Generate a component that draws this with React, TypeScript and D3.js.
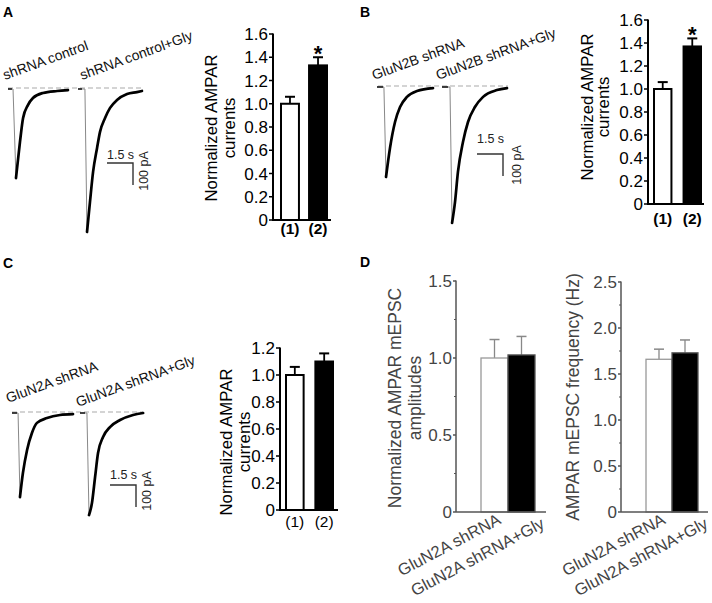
import React from 'react';
import * as d3 from 'd3';

const FONT = '"Liberation Sans", Arial, Helvetica, sans-serif';

// ---- bar data ----
const groupLabels = ['(1)', '(2)'];
const aMeans = [1.0, 1.33];
const aErrors = [0.06, 0.07];
const bMeans = [1.0, 1.37];
const bErrors = [0.06, 0.07];
const cMeans = [1.0, 1.1];
const cErrors = [0.06, 0.06];
const normTicksAB = [0, 0.2, 0.4, 0.6, 0.8, 1.0, 1.2, 1.4, 1.6];
const normTicksC = [0, 0.2, 0.4, 0.6, 0.8, 1.0, 1.2];

const dCategories = ['GluN2A shRNA', 'GluN2A shRNA+Gly'];
const ampMeans = [1.0, 1.02];
const ampErrors = [0.12, 0.12];
const freqMeans = [1.66, 1.73];
const freqErrors = [0.11, 0.14];
const ampTicks = [0, 0.5, 1.0, 1.5];
const ampMinor = [0.25, 0.75, 1.25];
const freqTicks = [0, 0.5, 1.0, 1.5, 2.0, 2.5];
const freqMinor = [0.25, 0.75, 1.25, 1.75, 2.25];

// ---- trace labels ----
const aTraceLabels = ['shRNA control', 'shRNA control+Gly'];
const bTraceLabels = ['GluN2B shRNA', 'GluN2B shRNA+Gly'];
const cTraceLabels = ['GluN2A shRNA', 'GluN2A shRNA+Gly'];

// ---- traces: time (s), current (pA) ----
const a1Time = [0, 0.23, 0.29, 0.46, 0.69, 0.87, 1.15, 1.44, 2.02, 2.83, 3.46];
const a1Current = [0, 0, 0, -405, -241, -132, -73, -41, -18, -9, -5];
const a2Time = [0, 0.23, 0.4, 0.52, 0.69, 0.87, 1.1, 1.27, 1.56, 1.85, 2.25, 2.83, 3.4, 3.69];
const a2Current = [0, 0, 0, -650, -514, -377, -268, -195, -132, -86, -50, -23, -14, -9];
const b1Time = [0, 0.35, 0.4, 0.52, 0.75, 1.04, 1.33, 1.73, 2.31, 3.23];
const b1Current = [0, 0, 0, -409, -277, -159, -91, -45, -18, -5];
const b2Time = [0, 0.35, 0.46, 0.58, 0.75, 0.92, 1.21, 1.5, 1.9, 2.37, 3.17, 3.75];
const b2Current = [0, 0, 0, -618, -523, -386, -250, -159, -91, -45, -14, -5];
const c1Time = [0, 0.29, 0.35, 0.46, 0.63, 0.87, 1.15, 1.44, 2.02, 2.77, 3.52];
const c1Current = [0, 0, 0, -382, -273, -168, -91, -45, -23, -9, -5];
const c2Time = [0, 0.29, 0.4, 0.52, 0.69, 0.87, 1.04, 1.33, 1.73, 2.31, 3.06, 3.64];
const c2Current = [0, 0, 0, -464, -409, -291, -182, -109, -64, -32, -9, 0];

const fmt = (v: number) => (v === 0 ? '0' : v.toFixed(1));

// pixel ratio of the scale bars: 1.5 s -> 26 px, 100 pA -> 22 px
function traceScales(x0: number, y0: number) {
  const x = d3.scaleLinear().domain([0, 1.5]).range([x0, x0 + 26]);
  const y = d3.scaleLinear().domain([0, -100]).range([y0, y0 + 22]);
  return { x, y };
}

function Trace({ time, current, x0, y0 }: any) {
  const { x, y } = traceScales(x0, y0);
  const pts: [number, number][] = time.map((t: number, i: number) => [x(t), y(current[i])]);
  const line = d3.line();
  const decay = d3.line().curve(d3.curveMonotoneX);
  return (
    <g fill="none">
      <path d={line(pts.slice(1, 4)) || ''} stroke="#888" strokeWidth={1} />
      <path d={line(pts.slice(0, 2)) || ''} stroke="#111" strokeWidth={1.6} />
      <path d={decay(pts.slice(3)) || ''} stroke="#000" strokeWidth={2.7} strokeLinecap="round" />
    </g>
  );
}

function ScaleBar({ cx, cy, textY, pAx, pAy }: any) {
  const { x, y } = traceScales(cx, cy);
  const left = x(-1.5);
  const bottom = y(-100);
  return (
    <g>
      <path d={`M${left},${cy}H${cx}V${bottom}`} fill="none" stroke="#333" strokeWidth={1.4} />
      <text x={left} y={textY} fontSize={12.5} fill="#222">1.5 s</text>
      <text transform={`translate(${pAx},${pAy}) rotate(-90)`} textAnchor="middle" fontSize={12.5} fill="#222">100 pA</text>
    </g>
  );
}

function TracePanel({ labels, traces, starts, base, dash, labelPos, bar }: any) {
  return (
    <g>
      <line x1={dash[0]} x2={dash[1]} y1={base - 1} y2={base - 1} stroke="#aaa" strokeWidth={1.2} strokeDasharray="5,3" />
      {traces.map((t: any, i: number) => (
        <Trace key={i} time={t[0]} current={t[1]} x0={starts[i]} y0={base} />
      ))}
      {labels.map((l: string, i: number) => (
        <text key={l} transform={`translate(${labelPos[i][0]},${labelPos[i][1]}) rotate(-20)`} fontSize={14} fill="#111">{l}</text>
      ))}
      <ScaleBar {...bar} />
    </g>
  );
}

function BarPanel(p: any) {
  const y = d3.scaleLinear().domain([0, p.yMax]).range([p.yBottom, p.yTop]);
  const x = d3.scaleBand<string>().domain(p.cats).range([p.barLeft, p.barRight]).paddingInner(p.pad);
  const d = p.dStyle;
  const axisColor = d ? '#555' : '#000';
  const textColor = d ? '#444' : '#000';
  const tickLen = d ? 3 : 4;
  return (
    <g fontFamily={FONT}>
      {p.cats.map((c: string, i: number) => {
        const bx = x(c) as number;
        const cx = bx + x.bandwidth() / 2;
        const top = y(p.means[i]);
        const errTop = y(p.means[i] + p.errors[i]);
        const capHalf = 5;
        return (
          <g key={c}>
            <line x1={cx} x2={cx} y1={top} y2={errTop} stroke={d ? '#888' : '#000'} strokeWidth={d ? 1.3 : 1.8} />
            <line x1={cx - capHalf} x2={cx + capHalf} y1={errTop} y2={errTop} stroke={d ? '#888' : '#000'} strokeWidth={d ? 1.5 : 2} />
            <rect
              x={bx}
              y={top}
              width={x.bandwidth()}
              height={p.yBottom - top}
              fill={i === 0 ? '#fff' : '#000'}
              stroke={d ? (i === 0 ? '#999' : '#555') : '#000'}
              strokeWidth={d ? 1.3 : 2}
            />
            {p.star && i === 1 && (
              <text x={cx} y={errTop + 4} textAnchor="middle" fontSize={22} fontWeight="bold">*</text>
            )}
            {!d && (
              <text x={cx} y={p.catY} textAnchor="middle" fontSize={15.5} fontWeight={p.boldCats ? 'bold' : 'normal'}>{c}</text>
            )}
            {d && (
              <text
                transform={`translate(${cx + p.catDx[i]},${p.catY + p.catDy[i]}) rotate(-28)`}
                textAnchor="end"
                fontSize={16.5}
                fill={textColor}
              >{p.catNames[i]}</text>
            )}
          </g>
        );
      })}
      <line x1={p.axisLeft} x2={p.axisLeft} y1={p.yBottom} y2={y(p.yMax) - 0.5} stroke={axisColor} strokeWidth={d ? 1.5 : 2} />
      <line x1={p.axisLeft - (d ? 0 : 1)} x2={p.axisRight} y1={p.yBottom} y2={p.yBottom} stroke={axisColor} strokeWidth={d ? 1.5 : 2} />
      {p.ticks.map((t: number) => (
        <g key={t}>
          <line x1={p.axisLeft - tickLen} x2={p.axisLeft} y1={y(t)} y2={y(t)} stroke={axisColor} strokeWidth={1.5} />
          <text x={p.axisLeft - tickLen - 1} y={y(t)} dy="0.36em" textAnchor="end" fontSize={17} fill={textColor}>{fmt(t)}</text>
        </g>
      ))}
      {(p.minor || []).map((t: number) => (
        <line key={t} x1={p.axisLeft - 2} x2={p.axisLeft} y1={y(t)} y2={y(t)} stroke={axisColor} strokeWidth={1} />
      ))}
      {p.title.map((l: string, i: number) => (
        <text
          key={l}
          transform={`translate(${p.titleX[i]},${p.titleY}) rotate(-90)`}
          textAnchor="middle"
          fontSize={d ? 17.5 : 16.8}
          fill={textColor}
        >{l}</text>
      ))}
    </g>
  );
}

export default function App() {
  return (
    <svg
      width={712}
      height={603}
      viewBox="0 0 712 603"
      style={{ position: 'absolute', left: 0, top: 0, background: '#fff' }}
      fontFamily={FONT}
    >
      <rect width={712} height={603} fill="#fff" />
      {/* panel letters */}
      <text x={3} y={17} fontSize={14} fontWeight="bold">A</text>
      <text x={360} y={17} fontSize={14} fontWeight="bold">B</text>
      <text x={3} y={268} fontSize={14} fontWeight="bold">C</text>
      <text x={360} y={267} fontSize={14} fontWeight="bold">D</text>

      {/* A */}
      <TracePanel
        labels={aTraceLabels}
        traces={[[a1Time, a1Current], [a2Time, a2Current]]}
        starts={[8, 78]}
        base={89}
        dash={[8, 142]}
        labelPos={[[5, 80], [82, 80]]}
        bar={{ cx: 133, cy: 163, textY: 159, pAx: 148, pAy: 171 }}
      />
      <BarPanel
        cats={groupLabels} means={aMeans} errors={aErrors} ticks={normTicksAB}
        yMax={1.6} yBottom={220} yTop={34}
        axisLeft={273} axisRight={331} barLeft={281} barRight={327} pad={0.36}
        title={['Normalized AMPAR', 'currents']} titleX={[217, 235]} titleY={128}
        star boldCats catY={234}
      />

      {/* B */}
      <TracePanel
        labels={bTraceLabels}
        traces={[[b1Time, b1Current], [b2Time, b2Current]]}
        starts={[377, 442]}
        base={87}
        dash={[378, 508]}
        labelPos={[[374, 80], [438, 80]]}
        bar={{ cx: 503, cy: 154, textY: 143, pAx: 521, pAy: 165 }}
      />
      <BarPanel
        cats={groupLabels} means={bMeans} errors={bErrors} ticks={normTicksAB}
        yMax={1.6} yBottom={204} yTop={20}
        axisLeft={648} axisRight={704} barLeft={654} barRight={701} pad={0.41}
        title={['Normalized AMPAR', 'currents']} titleX={[593, 609]} titleY={107}
        star boldCats catY={224}
      />

      {/* C */}
      <TracePanel
        labels={cTraceLabels}
        traces={[[c1Time, c1Current], [c2Time, c2Current]]}
        starts={[12, 80]}
        base={413}
        dash={[12, 143]}
        labelPos={[[8, 403], [78, 407]]}
        bar={{ cx: 136, cy: 485, textY: 479, pAx: 151, pAy: 491 }}
      />
      <BarPanel
        cats={groupLabels} means={cMeans} errors={cErrors} ticks={normTicksC}
        yMax={1.2} yBottom={510} yTop={348}
        axisLeft={280} axisRight={338} barLeft={286} barRight={333} pad={0.4}
        title={['Normalized AMPAR', 'currents']} titleX={[232, 250]} titleY={442}
        catY={527}
      />

      {/* D */}
      <BarPanel
        dStyle
        cats={['a', 'b']} catNames={dCategories} means={ampMeans} errors={ampErrors}
        ticks={ampTicks} minor={ampMinor}
        yMax={1.5} yBottom={512} yTop={281}
        axisLeft={456} axisRight={546} barLeft={481} barRight={535} pad={0}
        title={['Normalized AMPAR mEPSC', 'amplitudes']} titleX={[401, 421]} titleY={398}
        catY={523} catDx={[7.5, 24]} catDy={[0, 4]}
      />
      <BarPanel
        dStyle
        cats={['a', 'b']} catNames={dCategories} means={freqMeans} errors={freqErrors}
        ticks={freqTicks} minor={freqMinor}
        yMax={2.5} yBottom={512} yTop={282}
        axisLeft={621} axisRight={708} barLeft={646} barRight={698} pad={0}
        title={['AMPAR mEPSC frequency (Hz)']} titleX={[579]} titleY={397}
        catY={523} catDx={[7.5, 24]} catDy={[0, 4]}
      />
    </svg>
  );
}
